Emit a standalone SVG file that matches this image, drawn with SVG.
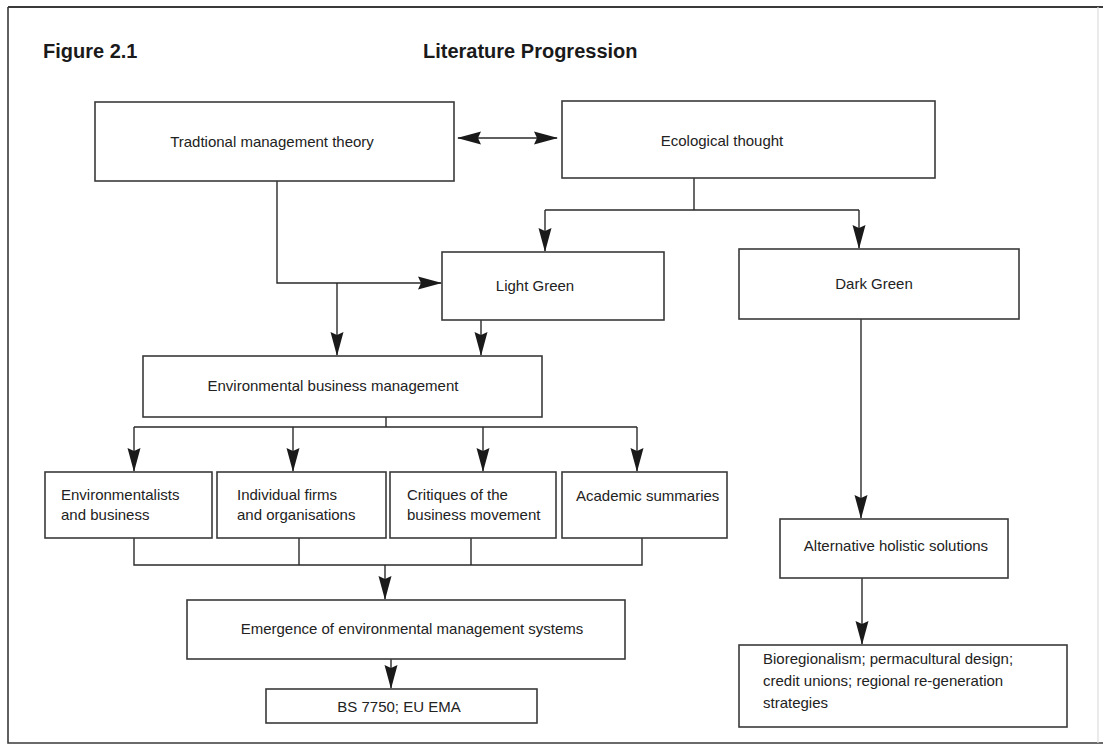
<svg xmlns="http://www.w3.org/2000/svg" width="1103" height="745" viewBox="0 0 1103 745">
  <defs>
    <marker id="ah" markerWidth="24" markerHeight="14" refX="23" refY="7" orient="auto-start-reverse" markerUnits="userSpaceOnUse">
      <path d="M0,0.5 L24,7 L0,13.5 L3,7 Z" fill="#1a1a1a"/>
    </marker>
    <style>
      .box { fill: #ffffff; stroke: #3a3a3a; stroke-width: 1.6; }
      .ln { fill: none; stroke: #2a2a2a; stroke-width: 1.4; }
      .arr { fill: none; stroke: #2a2a2a; stroke-width: 1.4; marker-end: url(#ah); }
      .dbl { fill: none; stroke: #2a2a2a; stroke-width: 1.4; marker-start: url(#ah); marker-end: url(#ah); }
      .t { font-family: "Liberation Sans", Arial, sans-serif; font-size: 15px; fill: #222222; }
      .c { text-anchor: middle; }
      .title { font-family: "Liberation Sans", Arial, sans-serif; font-size: 20px; font-weight: bold; fill: #1a1a1a; }
    </style>
  </defs>

  <rect width="1103" height="745" fill="#ffffff"/>

  <!-- page frame -->
  <g id="frame">
    <path d="M8,7 H1103" fill="none" stroke="#3a3a3a" stroke-width="1.8"/>
    <path d="M8,7 V743 H1103" fill="none" stroke="#3a3a3a" stroke-width="1.6"/>
    <path d="M1098,7 V743" fill="none" stroke="#dddddd" stroke-width="1.2"/>
  </g>

  <g id="titles">
    <text class="title" x="43" y="58">Figure 2.1</text>
    <text class="title" x="423" y="58">Literature Progression</text>
  </g>

  <!-- connectors -->
  <g id="connectors">
    <path class="dbl" d="M458,138 H557"/>
    <path class="ln" d="M694,178 V210 M545,210 H859"/>
    <path class="arr" d="M545,210 V251"/>
    <path class="arr" d="M859,210 V248"/>
    <path class="arr" d="M277,181 V283 H441"/>
    <path class="arr" d="M337,283 V355"/>
    <path class="arr" d="M481,320 V355"/>
    <path class="ln" d="M386,417 V427 M134,427 H637"/>
    <path class="arr" d="M134,427 V471"/>
    <path class="arr" d="M293,427 V471"/>
    <path class="arr" d="M483,427 V471"/>
    <path class="arr" d="M637,427 V471"/>
    <path class="ln" d="M134,538 V565 H642 V538 M299,538 V565 M471,538 V565"/>
    <path class="arr" d="M385,565 V599"/>
    <path class="arr" d="M391,659 V688"/>
    <path class="arr" d="M861,319 V518"/>
    <path class="arr" d="M862,578 V644"/>
  </g>

  <!-- nodes -->
  <g id="traditional">
    <rect class="box" x="95" y="102" width="359" height="79"/>
    <text class="t c" x="272" y="147">Tradtional management theory</text>
  </g>
  <g id="ecological">
    <rect class="box" x="562" y="101" width="373" height="77"/>
    <text class="t c" x="722" y="146">Ecological thought</text>
  </g>
  <g id="light-green">
    <rect class="box" x="442" y="252" width="222" height="68"/>
    <text class="t c" x="535" y="291">Light Green</text>
  </g>
  <g id="dark-green">
    <rect class="box" x="739" y="249" width="280" height="70"/>
    <text class="t c" x="874" y="289">Dark Green</text>
  </g>
  <g id="env-business">
    <rect class="box" x="143" y="356" width="399" height="61"/>
    <text class="t c" x="333" y="391">Environmental business management</text>
  </g>
  <g id="environmentalists">
    <rect class="box" x="45" y="472" width="167" height="66"/>
    <text class="t" x="61" y="500">Environmentalists</text>
    <text class="t" x="61" y="520">and business</text>
  </g>
  <g id="individual-firms">
    <rect class="box" x="217" y="472" width="169" height="66"/>
    <text class="t" x="237" y="500">Individual firms</text>
    <text class="t" x="237" y="520">and organisations</text>
  </g>
  <g id="critiques">
    <rect class="box" x="390" y="472" width="166" height="66"/>
    <text class="t" x="407" y="500">Critiques of the</text>
    <text class="t" x="407" y="520">business movement</text>
  </g>
  <g id="academic">
    <rect class="box" x="562" y="472" width="165" height="66"/>
    <text class="t" x="576" y="501">Academic summaries</text>
  </g>
  <g id="emergence">
    <rect class="box" x="187" y="600" width="438" height="59"/>
    <text class="t c" x="412" y="634">Emergence of environmental management systems</text>
  </g>
  <g id="bs7750">
    <rect class="box" x="266" y="689" width="271" height="34"/>
    <text class="t c" x="399" y="712">BS 7750; EU EMA</text>
  </g>
  <g id="alternative">
    <rect class="box" x="780" y="519" width="228" height="59"/>
    <text class="t c" x="896" y="551">Alternative holistic solutions</text>
  </g>
  <g id="bioregionalism">
    <rect class="box" x="739" y="645" width="328" height="82"/>
    <text class="t" x="763" y="664">Bioregionalism; permacultural design;</text>
    <text class="t" x="763" y="686">credit unions; regional re-generation</text>
    <text class="t" x="763" y="708">strategies</text>
  </g>
</svg>
